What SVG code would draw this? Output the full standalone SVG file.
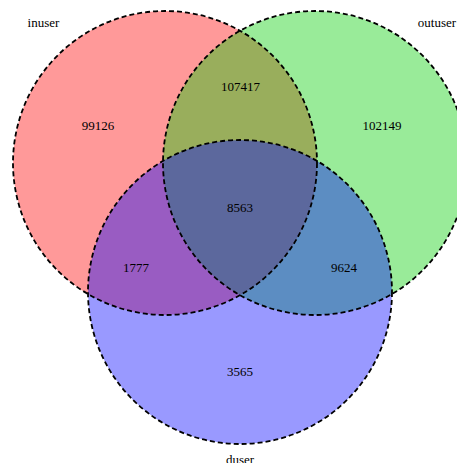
<svg xmlns="http://www.w3.org/2000/svg" width="457" height="463" viewBox="0 0 457 463">
<style>
.fill{stroke:none;fill-opacity:0.4}
.edge{fill:none;stroke:#000;stroke-width:1.8;stroke-dasharray:5 3}
text{font-family:"Liberation Serif","Times New Roman",serif;font-size:13px;fill:#000;text-anchor:middle}
</style>
<rect width="457" height="463" fill="#fff"/>
<g id="inuser"><circle class="fill" cx="165" cy="163" r="152" fill="#ff0000"/><text x="43.5" y="27">inuser</text></g>
<g id="outuser"><circle class="fill" cx="315" cy="163" r="152" fill="#00cd00"/><text x="437" y="27">outuser</text></g>
<g id="duser"><circle class="fill" cx="240" cy="292" r="152" fill="#0000ff"/><text x="240" y="464">duser</text></g>
<g id="outlines"><circle class="edge" cx="165" cy="163" r="152"/><circle class="edge" cx="315" cy="163" r="152"/><circle class="edge" cx="240" cy="292" r="152"/></g>
<g id="counts">
<text x="98" y="130">99126</text>
<text x="240.5" y="91">107417</text>
<text x="382" y="130">102149</text>
<text x="240" y="211.5">8563</text>
<text x="136" y="272">1777</text>
<text x="344" y="272">9624</text>
<text x="240" y="376">3565</text>
</g>
</svg>
